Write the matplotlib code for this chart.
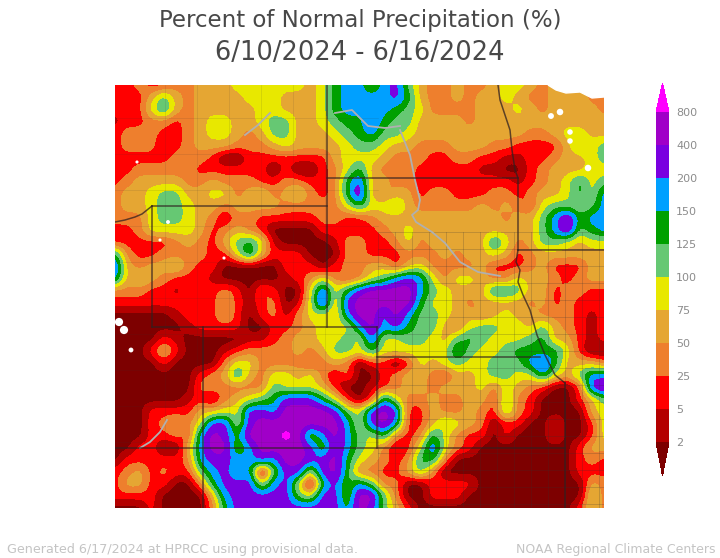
import numpy as np
import matplotlib
matplotlib.use("Agg")
import matplotlib.pyplot as plt
from matplotlib.colors import ListedColormap, BoundaryNorm
from matplotlib.cm import ScalarMappable

# precipitation class of each grid node, one hex digit per node
# 0 <2, 1 2-5, 2 5-25, 3 25-50, 4 50-75, 5 75-100, 6 100-125, 7 125-150,
# 8 150-200, 9 200-400, a 400-800, b >800
PRECIP_BANDS = [
    "2232233444 5555554578 8689643343 3455434444 4",
    "2224643444 4555444578 8889743343 4454334443 3",
    "2225743444 4455444578 8887653333 4445434444 3",
    "1223323455 4456644567 7976644443 4444444444 4",
    "2333223455 4346644456 7866544444 4444334554 4",
    "2333123444 3334544445 6654433344 4332222465 6",
    "2222233320 0222222245 5543332233 2211223445 6",
    "2233333222 2220200235 7433322222 1100234445 5",
    "2344443343 3322332237 9443322222 2221234575 6",
    "3445664455 3453453237 a434423322 2332344575 8",
    "3445665443 4444333335 7556433333 4343256656 8",
    "3335665431 3322222332 2344444444 4434468a78 8",
    "2235555423 4320000222 2234544444 4444468a67 8",
    "2222234324 6751000013 3223534444 4753466545 5",
    "7322333322 5842220003 3222333434 4542344444 4",
    "9434453220 0000222023 3442453333 4222342224 4",
    "8454322210 0000123532 3568985355 4335443234 4",
    "3332212223 2032005957 9aaaa86544 4776442332 2",
    "2222222224 2123015a49 aaaaa75543 4444342322 2",
    "0000012224 2023135548 aa8a866544 3454433321 2",
    "0000001222 2002234555 8a89766435 6655464321 2",
    "0000210000 0112344556 5955665467 6555674421 2",
    "0002420001 2333343466 5755555586 5567777520 0",
    "0000200003 5533332343 0220254565 5666897444 3",
    "0000000234 7435545313 0023443244 5665585468 8",
    "0000000333 3336555420 0123443444 5354320029 a",
    "0000001213 4567999752 0285334334 4263200024 6",
    "0002222445 5998aaaa96 59a9224334 3263200004 5",
    "0002343599 59aaaaaaa8 59a8224654 3022002002 5",
    "00022328a9 7aaaba68a8 6573237532 2020002002 5",
    "00220048aa 68aaaa96a8 6531259532 0000000024 4",
    "0222223899 8898aa99a7 5432377300 0000000023 2",
    "2342322689 78069959a7 3322463000 0000000022 2",
    "2442200379 9958950796 8633002222 0000000004 3",
    "2222000048 9999965996 aa63002220 0000000005 3",
    "0002000037 9999999997 a964200000 0000000025 3",
]

BAND_COLORS = ["#7d0000", "#b40000", "#ff0000", "#ee7f2d", "#e5a633", "#e8e800",
               "#66c873", "#00a000", "#00a0ff", "#7a00e0", "#a000c8", "#ff00ff"]
BAR_BOUNDS = [2, 5, 25, 50, 75, 100, 125, 150, 200, 400, 800]

TITLE = "Percent of Normal Precipitation (%)"
DATES = "6/10/2024 - 6/16/2024"
FOOT_LEFT = "Generated 6/17/2024 at HPRCC using provisional data."
FOOT_RIGHT = "NOAA Regional Climate Centers"

# state borders, rivers and lakes in map pixels
STATE_LINES = [
    ([327, 327], [85, 327]),
    ([327, 518], [178, 178]),
    ([152, 327], [206, 206]),
    ([152, 152], [206, 327]),
    ([115, 125, 135, 142, 152], [222, 220, 217, 214, 206]),
    ([152, 377], [327, 327]),
    ([203, 203], [327, 508]),
    ([377, 377], [327, 448]),
    ([377, 540], [357, 357]),
    ([115, 565], [448, 448]),
    ([565, 565], [383, 508]),
    ([518, 604], [250, 250]),
    ([498, 500, 505, 510, 512, 515, 518, 518, 518],
     [85, 100, 115, 130, 150, 170, 178, 200, 250]),
    ([518, 516, 520, 518, 523, 530, 537, 545, 555, 565],
     [250, 262, 270, 282, 295, 310, 335, 355, 375, 383]),
]
RIVER_LINES = [
    ([335, 352, 368, 385, 400], [113, 110, 126, 128, 126]),
    ([400, 410, 415, 420, 418, 412, 416, 432, 445, 460, 478, 500],
     [130, 155, 180, 200, 210, 215, 222, 232, 243, 262, 272, 276]),
    ([245, 258, 270], [135, 125, 113]),
    ([140, 150, 160, 167], [448, 442, 432, 420]),
]
LAKE_X = [551, 560, 570, 570, 588, 119, 124, 131, 137, 168, 160, 224]
LAKE_Y = [116, 112, 132, 141, 168, 322, 330, 350, 162, 222, 240, 258]
LAKE_S = [18, 22, 16, 16, 22, 35, 35, 12, 5, 8, 5, 5]
CANADA_X = [548, 556, 566, 580, 592, 604, 604, 548]
CANADA_Y = [85, 90, 93, 92, 98, 97, 85, 85]

bands = np.array([[int(c, 16) if c != "." else 4 for c in r.replace(" ", "")]
                  for r in PRECIP_BANDS], dtype=float)
xs = np.linspace(115, 604, bands.shape[1])
ys = np.linspace(85, 508, bands.shape[0])

# the map is soft in the original, so refine the grid and take the corners off
fine_x = np.linspace(115, 604, 4 * len(xs))
fine_y = np.linspace(85, 508, 4 * len(ys))
fine = np.array([np.interp(fine_x, xs, r) for r in bands])
fine = np.array([np.interp(fine_y, ys, c) for c in fine.T]).T
kernel = np.array([1, 2, 3, 2, 1]) / 9
pad = np.pad(fine, 2, mode="edge")
pad = np.apply_along_axis(lambda v: np.convolve(v, kernel, mode="same"), 0, pad)
pad = np.apply_along_axis(lambda v: np.convolve(v, kernel, mode="same"), 1, pad)
fine = pad[2:-2, 2:-2]

fig = plt.figure(figsize=(7.2, 5.58), dpi=100)
ax = fig.add_axes([115 / 720, 50 / 558, 489 / 720, 423 / 558])
ax.contourf(fine_x, fine_y, fine, levels=np.arange(-0.5, 12), colors=BAND_COLORS)

# county lines
for x in np.arange(378, 604, 17):
    ax.plot([x, x], [232, 508], color="#333333", lw=0.5, alpha=0.3)
for y in np.arange(232, 508, 17):
    ax.plot([378, 604], [y, y], color="#333333", lw=0.5, alpha=0.3)
for x in np.arange(165, 327, 32):
    ax.plot([x, x], [85, 448], color="#333333", lw=0.5, alpha=0.15)
for y in np.arange(118, 448, 36):
    ax.plot([115, 378], [y, y], color="#333333", lw=0.5, alpha=0.15)

for lx, ly in RIVER_LINES:
    ax.plot(lx, ly, color="#b0b0b0", lw=1.3)
for lx, ly in STATE_LINES:
    ax.plot(lx, ly, color="#302020", lw=1.1, alpha=0.75)
ax.fill(CANADA_X, CANADA_Y, color="white", zorder=5)
ax.scatter(LAKE_X, LAKE_Y, s=LAKE_S, c="white", marker="o", linewidths=0, zorder=5)
ax.set_xlim(115, 604)
ax.set_ylim(508, 85)
ax.axis("off")

# colour bar, the axes includes both pointed ends
cax = fig.add_axes([656 / 720, (558 - 476) / 558, 13 / 720, 393 / 558])
cmap = ListedColormap(BAND_COLORS[1:-1]).with_extremes(under=BAND_COLORS[0], over=BAND_COLORS[-1])
norm = BoundaryNorm(BAR_BOUNDS, cmap.N)
cb = fig.colorbar(ScalarMappable(norm=norm, cmap=cmap), cax=cax, extend="both",
                  extendfrac=(34 / 330, 29 / 330), spacing="uniform", ticks=BAR_BOUNDS)
cb.outline.set_visible(False)
cb.ax.tick_params(length=0, labelsize=8, labelcolor="#8c8c8c", pad=5)
cb.ax.set_yticklabels([str(b) for b in BAR_BOUNDS])

fig.text(360 / 720, 1 - 21 / 558, TITLE, ha="center", va="center", fontsize=16.5, color="#484848")
fig.text(360 / 720, 1 - 53 / 558, DATES, ha="center", va="center", fontsize=18.5, color="#484848")
fig.text(7 / 720, 1 - 549 / 558, FOOT_LEFT, ha="left", va="center", fontsize=9.2, color="#c4c4c4")
fig.text(715 / 720, 1 - 549 / 558, FOOT_RIGHT, ha="right", va="center", fontsize=9, color="#c4c4c4")

fig.savefig("out.png", dpi=100)
